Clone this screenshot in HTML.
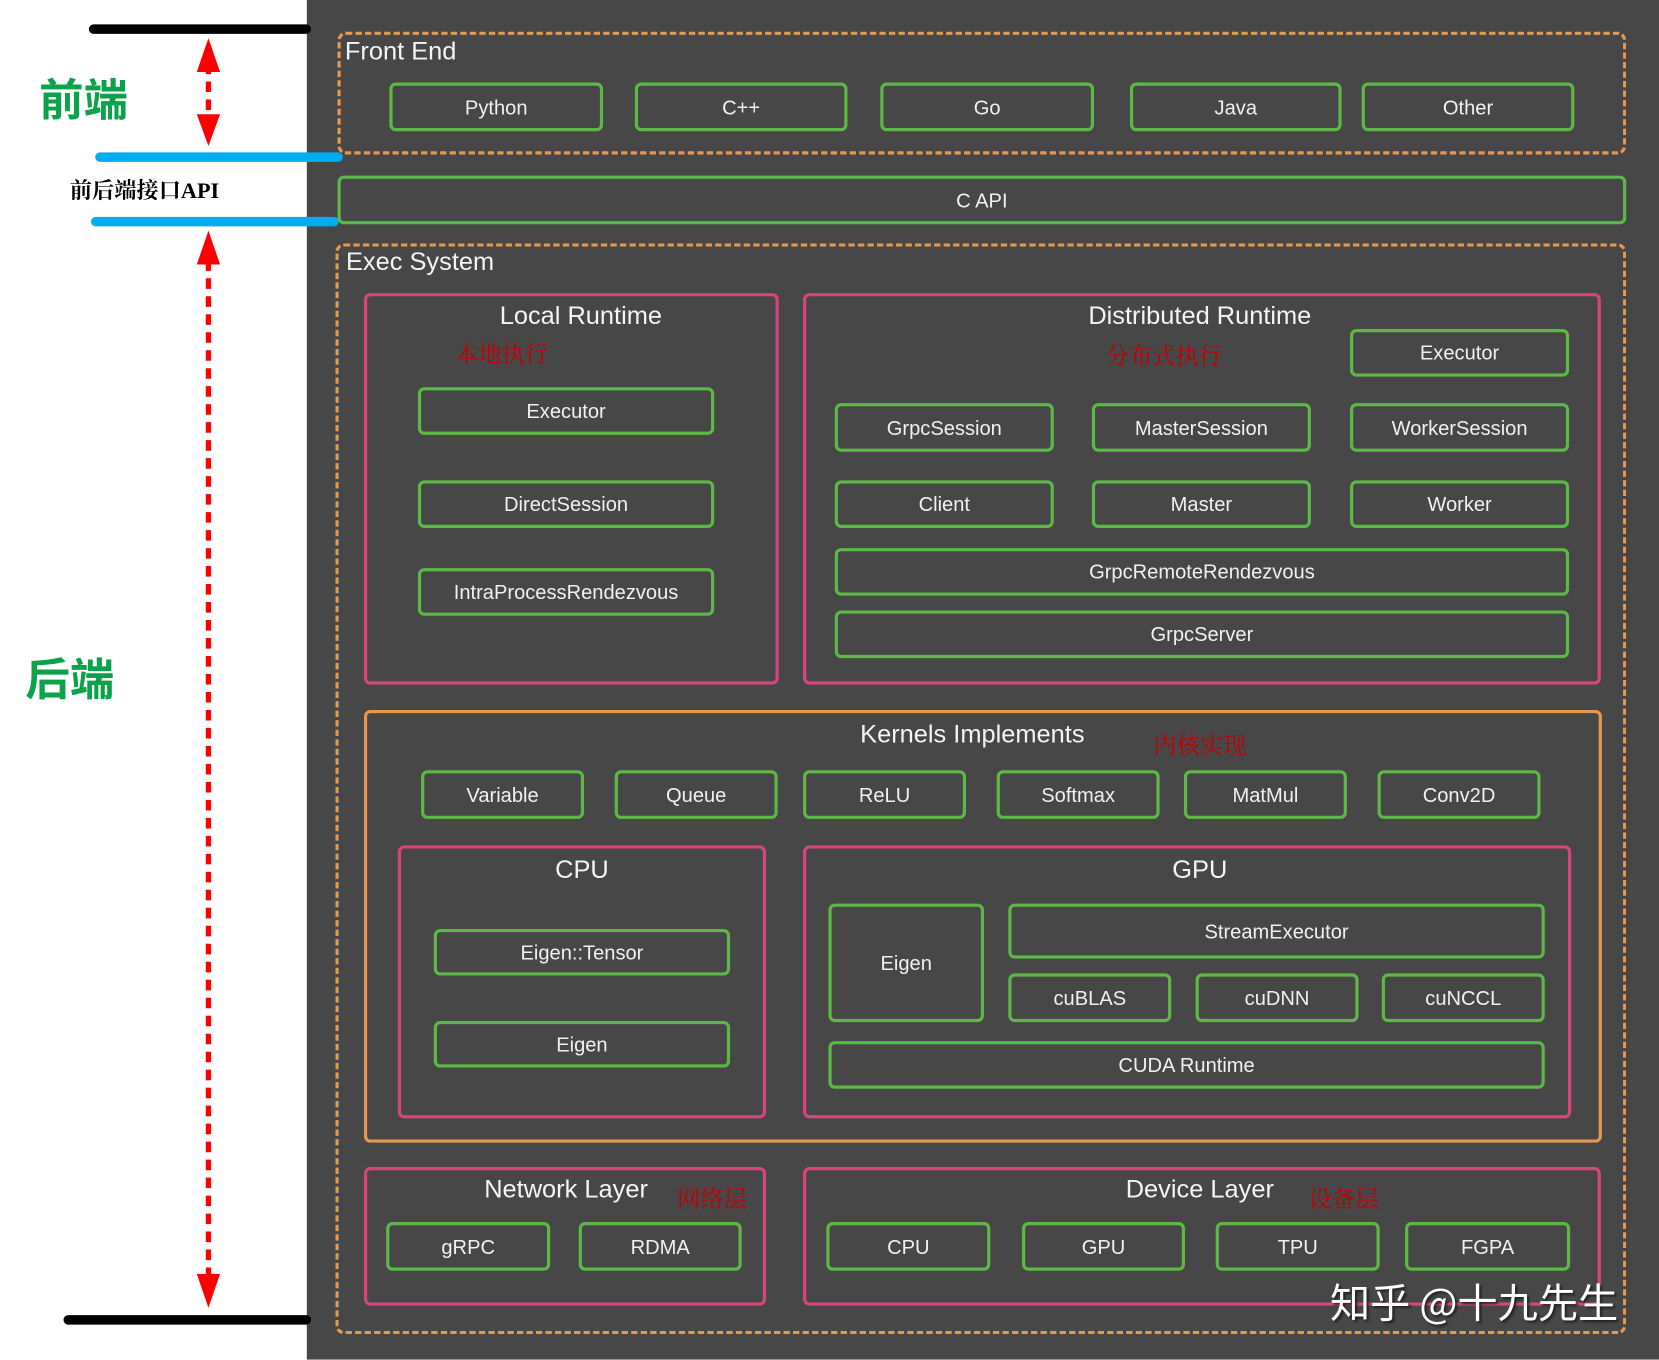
<!DOCTYPE html>
<html><head><meta charset="utf-8"><style>
html,body{margin:0;padding:0;width:1659px;height:1360px;overflow:hidden;background:#fff}
#w{position:absolute;left:0;top:0;width:1568px;height:1285px;transform:scale(1.05804);transform-origin:0 0}
.a{position:absolute;box-sizing:border-box}
.g{position:absolute;box-sizing:border-box;border:3px solid #5cb946;border-radius:6px;color:#f0f0f0;font:19px "Liberation Sans",sans-serif;display:flex;align-items:center;justify-content:center;padding-top:3px}
.p{position:absolute;box-sizing:border-box;border:3px solid #d8457c;border-radius:6px}
.d{position:absolute;box-sizing:border-box;border:3px dashed #e3994f;border-radius:8px}
.t{position:absolute;color:#f4f4f4;font:23px "Liberation Sans",sans-serif;white-space:nowrap}
.c{transform:translateX(-50%)}
.r{position:absolute;color:#c00000;font:22px "Liberation Serif","Noto Serif CJK SC",serif;white-space:nowrap}
.ln{position:absolute;border-radius:5px}
</style></head><body><div id="w">
<div class="a" style="left:290px;top:0;width:1278px;height:1285px;background:#474747"></div>
<div class="ln" style="left:84px;top:23px;width:210px;height:9px;background:#000"></div>
<div class="ln" style="left:60px;top:1243px;width:234px;height:9px;background:#000"></div>
<div class="ln" style="left:90px;top:144px;width:234px;height:9px;background:#00aeef"></div>
<div class="ln" style="left:86px;top:205px;width:234px;height:9px;background:#00aeef"></div>
<svg class="a" style="left:0;top:0" width="290" height="1285">
<line x1="197" y1="60" x2="197" y2="112" stroke="#f00" stroke-width="5" stroke-dasharray="10,7"/>
<polygon points="186,68 208,68 197,36" fill="#f00"/>
<polygon points="186,108 208,108 197,138" fill="#f00"/>
<line x1="197" y1="246" x2="197" y2="1210" stroke="#f00" stroke-width="5" stroke-dasharray="10,7"/>
<polygon points="186,250 208,250 197,218" fill="#f00"/>
<polygon points="186,1204 208,1204 197,1236" fill="#f00"/>
</svg>
<div class="a" style="left:37px;top:64px;color:#0aa24a;font:bold 42px 'Noto Sans CJK SC',sans-serif;line-height:56px">前端</div>
<div class="a" style="left:24px;top:612px;color:#0aa24a;font:bold 42px 'Noto Sans CJK SC',sans-serif;line-height:56px">后端</div>
<div class="a" style="left:66px;top:166px;color:#000;font:bold 21px 'Liberation Serif','Noto Serif CJK SC',serif;line-height:28px">前后端接口API</div>
<div class="d" style="left:319px;top:30px;width:1218px;height:116px"></div>
<div class="t" style="left:326px;top:35px;font-size:24px">Front End</div>
<div class="g" style="left:368px;top:78px;width:202px;height:46px">Python</div>
<div class="g" style="left:600px;top:78px;width:201px;height:46px">C++</div>
<div class="g" style="left:832px;top:78px;width:202px;height:46px">Go</div>
<div class="g" style="left:1068px;top:78px;width:200px;height:46px">Java</div>
<div class="g" style="left:1287px;top:78px;width:201px;height:46px">Other</div>
<div class="g" style="left:319px;top:166px;width:1218px;height:46px">C API</div>
<div class="d" style="left:317px;top:230px;width:1220px;height:1031px"></div>
<div class="t" style="left:327px;top:234px;font-size:24px">Exec System</div>
<div class="p" style="left:344px;top:277px;width:392px;height:370px"></div>
<div class="t c" style="left:549px;top:285px;font-size:24px">Local Runtime</div>
<div class="r" style="left:430px;top:318px">本地执行</div>
<div class="g" style="left:395px;top:366px;width:280px;height:45px">Executor</div>
<div class="g" style="left:395px;top:454px;width:280px;height:45px">DirectSession</div>
<div class="g" style="left:395px;top:537px;width:280px;height:45px">IntraProcessRendezvous</div>
<div class="p" style="left:759px;top:277px;width:754px;height:370px"></div>
<div class="t c" style="left:1134px;top:285px;font-size:24px">Distributed Runtime</div>
<div class="r" style="left:1045px;top:320px">分布式执行</div>
<div class="g" style="left:1276px;top:311px;width:207px;height:45px">Executor</div>
<div class="g" style="left:789px;top:381px;width:207px;height:46px">GrpcSession</div>
<div class="g" style="left:1032px;top:381px;width:207px;height:46px">MasterSession</div>
<div class="g" style="left:1276px;top:381px;width:207px;height:46px">WorkerSession</div>
<div class="g" style="left:789px;top:454px;width:207px;height:45px">Client</div>
<div class="g" style="left:1032px;top:454px;width:207px;height:45px">Master</div>
<div class="g" style="left:1276px;top:454px;width:207px;height:45px">Worker</div>
<div class="g" style="left:789px;top:518px;width:694px;height:45px">GrpcRemoteRendezvous</div>
<div class="g" style="left:789px;top:577px;width:694px;height:45px">GrpcServer</div>
<div class="a" style="left:344px;top:671px;width:1170px;height:409px;border:3px solid #e3994f;border-radius:6px"></div>
<div class="t c" style="left:919px;top:681px;font-size:24px">Kernels Implements</div>
<div class="r" style="left:1090px;top:688px">内核实现</div>
<div class="g" style="left:398px;top:728px;width:154px;height:46px">Variable</div>
<div class="g" style="left:581px;top:728px;width:154px;height:46px">Queue</div>
<div class="g" style="left:759px;top:728px;width:154px;height:46px">ReLU</div>
<div class="g" style="left:942px;top:728px;width:154px;height:46px">Softmax</div>
<div class="g" style="left:1119px;top:728px;width:154px;height:46px">MatMul</div>
<div class="g" style="left:1302px;top:728px;width:154px;height:46px">Conv2D</div>
<div class="p" style="left:376px;top:799px;width:348px;height:258px"></div>
<div class="t c" style="left:550px;top:809px;font-size:24px">CPU</div>
<div class="g" style="left:410px;top:878px;width:280px;height:44px">Eigen::Tensor</div>
<div class="g" style="left:410px;top:965px;width:280px;height:44px">Eigen</div>
<div class="p" style="left:759px;top:799px;width:726px;height:258px"></div>
<div class="t c" style="left:1134px;top:809px;font-size:24px">GPU</div>
<div class="g" style="left:783px;top:854px;width:147px;height:112px">Eigen</div>
<div class="g" style="left:953px;top:854px;width:507px;height:52px">StreamExecutor</div>
<div class="g" style="left:953px;top:920px;width:154px;height:46px">cuBLAS</div>
<div class="g" style="left:1130px;top:920px;width:154px;height:46px">cuDNN</div>
<div class="g" style="left:1306px;top:920px;width:154px;height:46px">cuNCCL</div>
<div class="g" style="left:783px;top:984px;width:677px;height:45px">CUDA Runtime</div>
<div class="p" style="left:344px;top:1103px;width:380px;height:131px"></div>
<div class="t c" style="left:535px;top:1111px;font-size:24px">Network Layer</div>
<div class="r" style="left:640px;top:1117px">网络层</div>
<div class="g" style="left:365px;top:1155px;width:155px;height:46px">gRPC</div>
<div class="g" style="left:547px;top:1155px;width:154px;height:46px">RDMA</div>
<div class="p" style="left:759px;top:1103px;width:754px;height:131px"></div>
<div class="t c" style="left:1134px;top:1111px;font-size:24px">Device Layer</div>
<div class="r" style="left:1237px;top:1117px">设备层</div>
<div class="g" style="left:781px;top:1155px;width:155px;height:46px">CPU</div>
<div class="g" style="left:966px;top:1155px;width:154px;height:46px">GPU</div>
<div class="g" style="left:1149px;top:1155px;width:155px;height:46px">TPU</div>
<div class="g" style="left:1328px;top:1155px;width:156px;height:46px">FGPA</div>
<div class="a" style="left:1257px;top:1204px;color:#fff;font:38px 'Noto Sans CJK SC',sans-serif;line-height:50px;text-shadow:2px 2px 2px #222;white-space:nowrap">知乎 @十九先生</div>
</div></body></html>
